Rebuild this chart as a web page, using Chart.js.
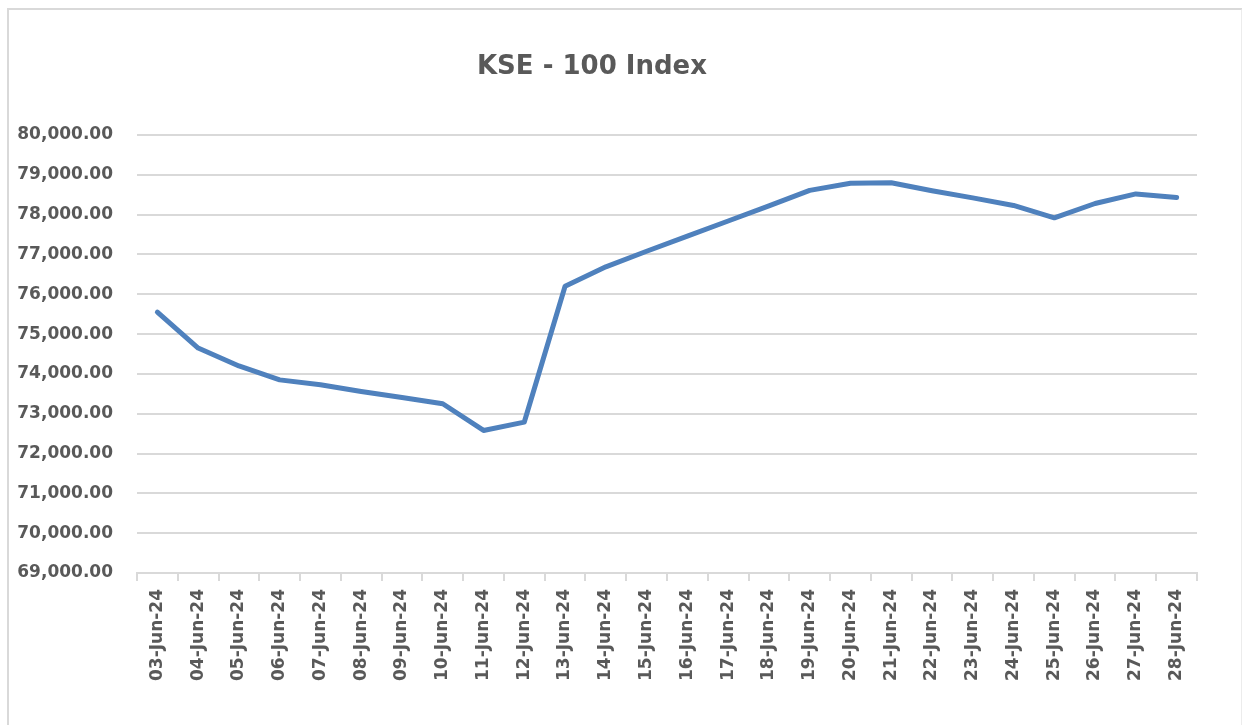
<!DOCTYPE html>
<html>
<head>
<meta charset="utf-8">
<title>KSE - 100 Index</title>
<script src="https://cdn.jsdelivr.net/npm/chart.js@4/dist/chart.umd.min.js"></script>
<style>
  html, body { margin: 0; padding: 0; background: #fff; }
  .frame {
    position: absolute; left: 7px; top: 8px; width: 1232px; height: 740px;
    border-left: 2px solid #d9d9d9; border-top: 2px solid #d9d9d9; border-right: 2px solid #ececec;
  }
  #chartLine { position: absolute; left: 0; top: 0; }
</style>
</head>
<body>
<div class="frame"></div>
<canvas id="chartLine" width="1242" height="725"></canvas>
<script>
  const dateLabels = [
    "03-Jun-24", "04-Jun-24", "05-Jun-24", "06-Jun-24", "07-Jun-24", "08-Jun-24", "09-Jun-24",
    "10-Jun-24", "11-Jun-24", "12-Jun-24", "13-Jun-24", "14-Jun-24", "15-Jun-24", "16-Jun-24",
    "17-Jun-24", "18-Jun-24", "19-Jun-24", "20-Jun-24", "21-Jun-24", "22-Jun-24", "23-Jun-24",
    "24-Jun-24", "25-Jun-24", "26-Jun-24", "27-Jun-24", "28-Jun-24",
  ];
  const indexValues = [
    75550, 74650, 74200, 73850, 73730, 73560, 73410,
    73250, 72580, 72790, 76200, 76690, 77080, 77460,
    77840, 78220, 78610, 78790, 78800, 78600, 78420,
    78230, 77920, 78280, 78520, 78430,
  ];
  const yMin = 69000;
  const yMax = 80000;
  const yStep = 1000;

  const textGrey = "#595959";
  const gridGrey = "#d9d9d9";
  const fontFamily = "'DejaVu Sans', sans-serif";

  // title drawn by hand so it sits where the original puts it
  const titlePlugin = {
    id: "kseTitle",
    afterDraw(chart) {
      const ctx = chart.ctx;
      ctx.save();
      ctx.font = "bold 26px " + fontFamily;
      ctx.fillStyle = textGrey;
      ctx.textAlign = "center";
      ctx.textBaseline = "alphabetic";
      ctx.fillText("KSE - 100 Index", 592, 74);
      ctx.restore();
    },
  };

  const configLineChart = {
    type: "line",
    data: {
      labels: dateLabels,
      datasets: [
        {
          label: "KSE - 100 Index",
          data: indexValues,
          borderColor: "#4f81bd",
          backgroundColor: "#4f81bd",
          borderWidth: 5,
          pointRadius: 0,
          tension: 0,
          borderCapStyle: "round",
          borderJoinStyle: "round",
        },
      ],
    },
    options: {
      responsive: false,
      animation: false,
      layout: { padding: { top: 135, right: 45, bottom: 0, left: 0 } },
      plugins: {
        legend: { display: false },
        tooltip: { enabled: false },
        title: { display: false },
      },
      scales: {
        x: {
          offset: true,
          grid: {
            offset: true,
            drawOnChartArea: false,
            drawTicks: true,
            tickLength: 8,
            color: gridGrey,
            lineWidth: 2,
          },
          border: { display: true, color: gridGrey, width: 2 },
          ticks: {
            color: textGrey,
            font: { family: fontFamily, size: 17, weight: "bold" },
            minRotation: 90,
            maxRotation: 90,
            autoSkip: false,
            padding: 8,
          },
          afterFit(scale) { scale.height = 152; },
        },
        y: {
          min: yMin,
          max: yMax,
          grid: { color: gridGrey, lineWidth: 2, drawTicks: false },
          border: { display: false },
          ticks: {
            stepSize: yStep,
            color: textGrey,
            font: { family: fontFamily, size: 17, weight: "bold" },
            padding: 24,
            callback: (v) => v.toLocaleString("en-US", { minimumFractionDigits: 2, maximumFractionDigits: 2 }),
          },
          afterFit(scale) { scale.width = 137; },
        },
      },
    },
    plugins: [titlePlugin],
  };

  var chartLine = new Chart(document.getElementById("chartLine"), configLineChart);
</script>
</body>
</html>
